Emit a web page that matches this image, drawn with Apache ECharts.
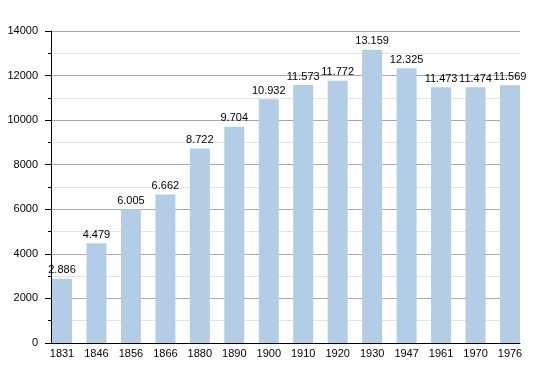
<!DOCTYPE html>
<html><head><meta charset="utf-8">
<script src="https://cdn.jsdelivr.net/npm/echarts@6/dist/echarts.min.js"></script>
<style>html,body{margin:0;padding:0;background:#fff}#c{width:550px;height:373px}</style>
</head><body><div id="c"></div>
<script>
const years = ['1831','1846','1856','1866','1880','1890','1900','1910','1920','1930','1947','1961','1970','1976'];
const population = [2886,4479,6005,6662,8722,9704,10932,11573,11772,13159,12325,11473,11474,11569];

function fmt(v){return String(v).replace(/\B(?=(\d{3})+(?!\d))/g,'.');}
const FONT = 'Liberation Sans, Arial, sans-serif';

const chart = echarts.init(document.getElementById('c'), null, {renderer:'canvas'});
chart.setOption({
  animation:false,
  grid:[
    {left:51,right:30,top:31,bottom:30,containLabel:false},
    {left:62,right:40,top:31,bottom:30,containLabel:false}
  ],
  xAxis:[
    {gridIndex:0,type:'category',data:years,
     axisLine:{lineStyle:{color:'#000',width:1}},
     axisTick:{show:false},axisLabel:{show:false},splitLine:{show:false}},
    {gridIndex:1,type:'category',data:years,boundaryGap:false,
     axisLine:{show:false},axisTick:{show:false},splitLine:{show:false},
     axisLabel:{color:'#000',fontSize:11,fontFamily:FONT,margin:5}}
  ],
  yAxis:[
    {gridIndex:0,type:'value',min:0,max:14000,interval:2000,
     axisLine:{show:true,lineStyle:{color:'#000',width:1}},
     axisTick:{show:true,length:6,lineStyle:{color:'#000'}},
     minorTick:{show:true,splitNumber:2,length:3,lineStyle:{color:'#000'}},
     splitLine:{show:true,lineStyle:{color:'#aaaaaa',width:1}},
     minorSplitLine:{show:true,lineStyle:{color:'#e4e4e4',width:1}},
     axisLabel:{color:'#000',fontSize:11,fontFamily:FONT,margin:13,formatter:v=>String(v)}},
    {gridIndex:1,type:'value',min:0,max:14000,show:false,splitLine:{show:false}}
  ],
  series:[{
    type:'bar',xAxisIndex:1,yAxisIndex:1,data:population,barWidth:20,
    itemStyle:{color:'#b3cde6'},
    label:{show:true,position:'top',distance:3,color:'#000',fontSize:11,
      fontFamily:FONT,formatter:p=>fmt(p.value)}
  }]
});
</script></body></html>
